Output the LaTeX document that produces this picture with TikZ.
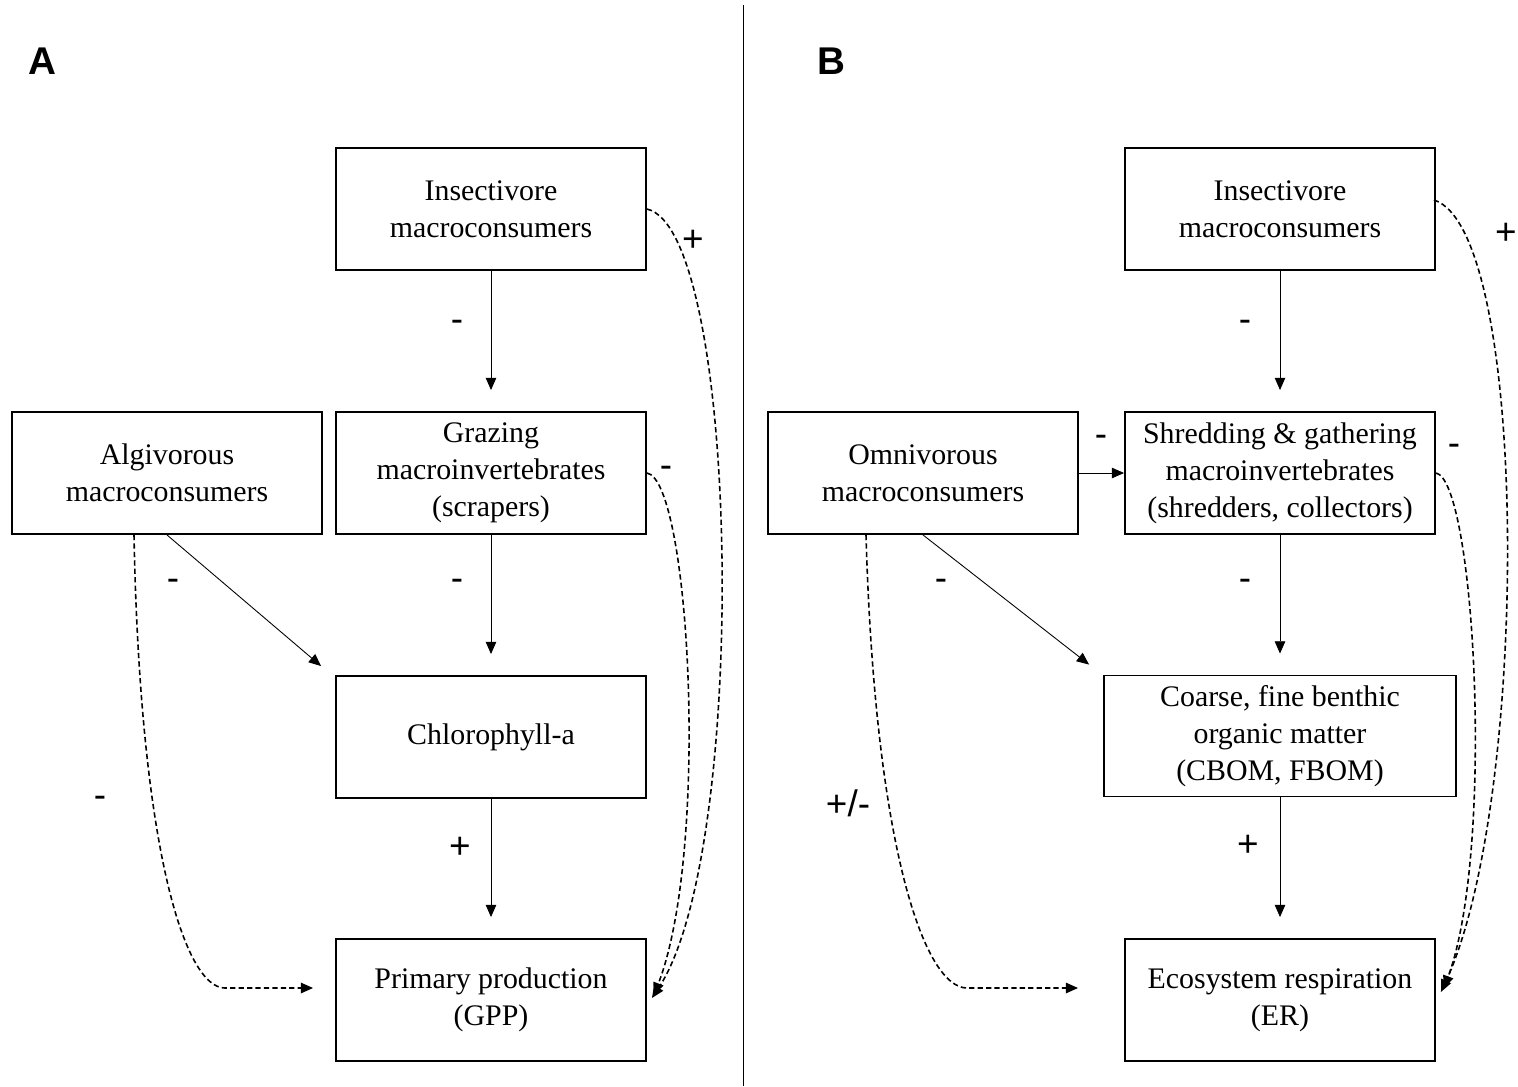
\documentclass[tikz,border=0pt]{standalone}
\usepackage{fontspec}
\setmainfont{Liberation Serif}
\newfontfamily\signfont{Liberation Sans}
\usetikzlibrary{arrows.meta,calc}
\tikzset{
  box/.style={rectangle, draw=black, line width=1.1pt, fill=white, minimum width=6.2cm, minimum height=2.44cm, align=center, inner sep=2pt, font=\fontsize{17}{21}\selectfont},
  arr/.style={-{Triangle[length=7pt,width=6pt]}, line width=0.5pt, draw=black},
  arrd/.style={arr, line width=0.9pt, dash pattern=on 3pt off 1.8pt},
  sgn/.style={font=\signfont\fontsize{21}{21}\selectfont, inner sep=0pt},
  panellabel/.style={font=\signfont\bfseries\fontsize{22}{22}\selectfont, inner sep=0pt},
}
\begin{document}
\begin{tikzpicture}[x=0.02cm,y=-0.02cm]
  \useasboundingbox (0,0) rectangle (1518,1086);
  \draw[line width=0.5pt] (743,5) -- (743,1086);
  \node[panellabel] (pA) at (42,61) {A};
  \node[panellabel] (pB) at (831,61) {B};
  % panel A
  \node[box] (insA) at (491,209) {Insectivore\\macroconsumers};
  \node[box] (grzA) at (491,473) {Grazing\\macroinvertebrates\\(scrapers)};
  \node[box] (algA) at (167,473) {Algivorous\\macroconsumers};
  \node[box] (chlA) at (491,737) {Chlorophyll-a};
  \node[box] (gppA) at (491,1000) {Primary production\\(GPP)};
  \foreach \a/\b in {insA/grzA,grzA/chlA,chlA/gppA}{\draw[arr,shorten >=0.42cm] (\a) -- (\b);}
  \draw[arr] (algA.south) -- ($(chlA.north west)+(-14,-9)$);
  \draw[arrd] ($(algA.south)+(-33,0)$) .. controls (140,850) and (185,988) .. (225,988) -- ($(gppA.west)+(-22,-12)$);
  \draw[arrd] (insA.east) .. controls (740,230) and (750,850) .. ($(gppA.east)+(5,-2)$);
  \draw[arrd] (grzA.east) .. controls (690,480) and (710,850) .. ($(gppA.east)+(7,-5)$);
  \node[sgn] (sA1) at (457,326) {-};
  \node[sgn] (sA2) at (457,585) {-};
  \node[sgn] (sA3) at (460,848) {+};
  \node[sgn] (sA4) at (173,585) {-};
  \node[sgn] (sA5) at (100,802) {-};
  \node[sgn] (sA6) at (693,241) {+};
  \node[sgn] (sA7) at (666,472) {-};
  % panel B
  \node[box] (insB) at (1280,209) {Insectivore\\macroconsumers};
  \node[box] (shrB) at (1280,473) {Shredding \& gathering\\macroinvertebrates\\(shredders, collectors)};
  \node[box] (omnB) at (923,473) {Omnivorous\\macroconsumers};
  \node[box,minimum width=7.04cm,minimum height=2.42cm] (cbmB) at (1280,736) {Coarse, fine benthic\\organic matter\\(CBOM, FBOM)};
  \node[box] (erB) at (1280,1000) {Ecosystem respiration\\(ER)};
  \foreach \a/\b in {insB/shrB,shrB/cbmB,cbmB/erB}{\draw[arr,shorten >=0.42cm] (\a) -- (\b);}
  \draw[arr] (omnB) -- (shrB);
  \draw[arr] (omnB.south) -- ($(cbmB.north west)+(-14,-10)$);
  \draw[arrd] ($(omnB.south)+(-57,0)$) .. controls (875,850) and (925,988) .. (967,988) -- ($(erB.west)+(-46,-12)$);
  \draw[arrd] ($(insB.east)+(-2,-9)$) .. controls (1530,230) and (1530,800) .. ($(erB.east)+(5,-8)$);
  \draw[arrd] (shrB.east) .. controls (1475,480) and (1495,850) .. ($(erB.east)+(8,-12)$);
  \node[sgn] (sB1) at (1245,326) {-};
  \node[sgn] (sB2) at (1245,585) {-};
  \node[sgn] (sB3) at (1248,846) {+};
  \node[sgn] (sB4) at (941,585) {-};
  \node[sgn] (sB5) at (848,803) {+/-};
  \node[sgn] (sB6) at (1506,234) {+};
  \node[sgn] (sB7) at (1454,450) {-};
  \node[sgn] (sB8) at (1101,441) {-};
\end{tikzpicture}
\end{document}
